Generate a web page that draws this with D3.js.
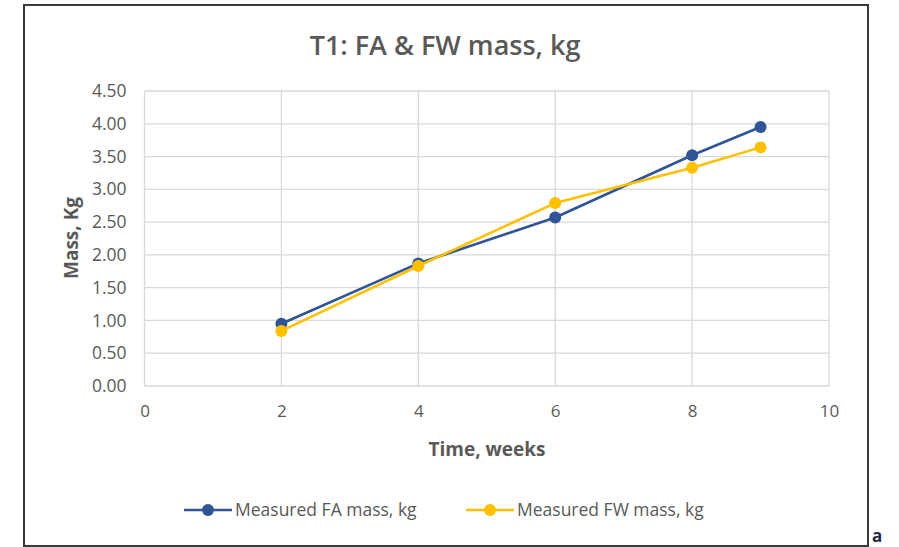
<!DOCTYPE html>
<html><head><meta charset="utf-8">
<script src="https://cdn.jsdelivr.net/npm/d3@7"></script>
<style>
html,body{margin:0;padding:0;background:#fff;}
svg{display:block;}
</style></head>
<body>
<svg id="chart" width="899" height="547"></svg>
<script>
const weeks = [2, 4, 6, 8, 9];
const faMass = [0.95, 1.87, 2.57, 3.52, 3.95];
const fwMass = [0.84, 1.83, 2.79, 3.33, 3.64];
const xTicks = [0, 2, 4, 6, 8, 10];
const yTicks = [0, 0.5, 1, 1.5, 2, 2.5, 3, 3.5, 4, 4.5];
const seriesNames = ["Measured FA mass, kg", "Measured FW mass, kg"];
const seriesColors = ["#2F5597", "#FFC000"];

const svg = d3.select("#chart");
const font = "'Open Sans', 'Noto Sans', sans-serif";

// frame
svg.append("rect").attr("x", 24).attr("y", 5).attr("width", 844).attr("height", 541)
  .attr("fill", "#fff").attr("stroke", "#3a3a3a").attr("stroke-width", 2);

const x = d3.scaleLinear().domain([0, 10]).range([144.5, 829]);
const y = d3.scaleLinear().domain([0, 4.5]).range([386, 91]);

// grid
const g = svg.append("g");
g.selectAll("line.h").data(yTicks).join("line")
  .attr("x1", x(0)).attr("x2", x(10))
  .attr("y1", d => y(d)).attr("y2", d => y(d))
  .attr("stroke", "#d9d9d9").attr("stroke-width", 1.3);
g.selectAll("line.v").data(xTicks).join("line")
  .attr("y1", y(0)).attr("y2", y(4.5))
  .attr("x1", d => x(d)).attr("x2", d => x(d))
  .attr("stroke", "#d9d9d9").attr("stroke-width", 1.3);

// axes (labels only)
const yAxis = d3.axisLeft(y).tickValues(yTicks).tickFormat(d3.format(".2f")).tickSize(0).tickPadding(18);
const ya = svg.append("g").attr("transform", `translate(${x(0)},0)`).call(yAxis);
ya.select(".domain").remove();
ya.selectAll("text").attr("fill", "#595959").style("font-family", font).style("font-size", "17.5px");

const xAxis = d3.axisBottom(x).tickValues(xTicks).tickFormat(d3.format("d")).tickSize(0).tickPadding(19);
const xa = svg.append("g").attr("transform", `translate(0,${y(0)})`).call(xAxis);
xa.select(".domain").remove();
xa.selectAll("text").attr("fill", "#595959").style("font-family", font).style("font-size", "17px");

// title
svg.append("text").attr("x", 445).attr("y", 55).attr("text-anchor", "middle")
  .attr("fill", "#595959").style("font-family", font).style("font-size", "27px").style("font-weight", 600)
  .text("T1: FA & FW mass, kg");

// axis titles
svg.append("text").attr("x", 487).attr("y", 456).attr("text-anchor", "middle")
  .attr("fill", "#595959").style("font-family", font).style("font-size", "19px").style("font-weight", 700)
  .text("Time, weeks");
svg.append("text").attr("transform", "translate(78,238) rotate(-90)").attr("text-anchor", "middle")
  .attr("fill", "#595959").style("font-family", font).style("font-size", "19px").style("font-weight", 700)
  .text("Mass, Kg");

// series
const series = [faMass, fwMass];
const line = d3.line().x((d, i) => x(weeks[i])).y(d => y(d));
series.forEach((vals, si) => {
  const sg = svg.append("g");
  sg.append("path").datum(vals).attr("d", line).attr("fill", "none")
    .attr("stroke", seriesColors[si]).attr("stroke-width", 2.6).attr("stroke-linejoin", "round");
  sg.selectAll("circle").data(vals).join("circle")
    .attr("cx", (d, i) => x(weeks[i])).attr("cy", d => y(d)).attr("r", 6)
    .attr("fill", seriesColors[si]);
});

// legend
const legX = [184, 466];
seriesNames.forEach((name, si) => {
  const lg = svg.append("g").attr("transform", `translate(${legX[si]},510)`);
  lg.append("line").attr("x1", 0).attr("x2", 48).attr("y1", 0).attr("y2", 0)
    .attr("stroke", seriesColors[si]).attr("stroke-width", 2.6);
  lg.append("circle").attr("cx", 24).attr("cy", 0).attr("r", 6).attr("fill", seriesColors[si]);
  lg.append("text").attr("x", 51).attr("y", 6).attr("fill", "#595959")
    .style("font-family", font).style("font-size", "17.5px").text(name);
});

// panel letter
svg.append("text").attr("x", 872).attr("y", 542).attr("fill", "#1f2a44")
  .style("font-family", font).style("font-size", "17px").style("font-weight", 700).text("a");
</script>
</body></html>
